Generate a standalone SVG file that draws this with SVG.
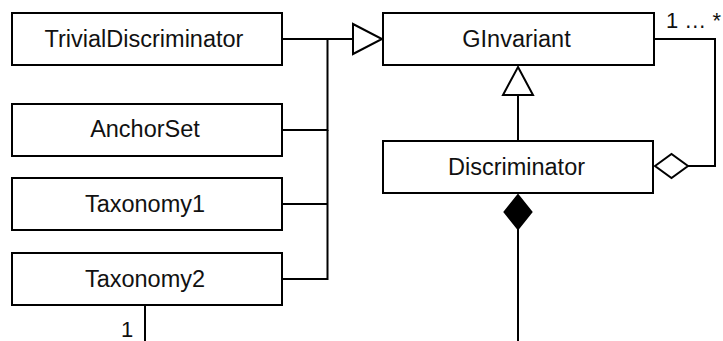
<svg xmlns="http://www.w3.org/2000/svg" width="723" height="341" viewBox="0 0 723 341">
<style>
.box{fill:#fff;stroke:#000;stroke-width:2}
.lbl{font-family:"Liberation Sans",Arial,sans-serif;font-size:23.5px;fill:#111;text-anchor:middle}
.mult{font-family:"Liberation Sans",Arial,sans-serif;font-size:22px;fill:#111}
.ln{fill:none;stroke:#000;stroke-width:2}
.hollow{fill:#fff;stroke:#000;stroke-width:2}
.filled{fill:#000;stroke:#000;stroke-width:2}
</style>
<rect width="723" height="341" fill="#fff"/>
<g id="connectors">
<polyline class="ln" points="282,39 353,39"/>
<polyline class="ln" points="282,130 327.5,130 327.5,39"/>
<polyline class="ln" points="282,204 327.5,204"/>
<polyline class="ln" points="282,279 327.5,279 327.5,130"/>
<polygon class="hollow" points="353,24 382,39 353,54"/>
<line class="ln" x1="518" y1="95" x2="518" y2="141"/>
<polygon class="hollow" points="518,67 533,95 503,95"/>
<polyline class="ln" points="654,39 715,39 715,166 688,166"/>
<polygon class="hollow" points="655,166 671.5,154 688,166 671.5,178"/>
<line class="ln" x1="518" y1="229" x2="518" y2="341"/>
<polygon class="filled" points="518,195 531.5,212 518,229 504.5,212"/>
<line class="ln" x1="145" y1="305" x2="145" y2="341"/>
<text class="mult" x="666" y="28">1 … *</text>
<text class="mult" x="121" y="337">1</text>
</g>
<g id="TrivialDiscriminator">
<rect class="box" x="12" y="13" width="270" height="52"/>
<text class="lbl" x="144" y="47">TrivialDiscriminator</text>
</g>
<g id="AnchorSet">
<rect class="box" x="12" y="104" width="270" height="52"/>
<text class="lbl" x="145" y="137">AnchorSet</text>
</g>
<g id="Taxonomy1">
<rect class="box" x="12" y="178" width="270" height="52"/>
<text class="lbl" x="145" y="212">Taxonomy1</text>
</g>
<g id="Taxonomy2">
<rect class="box" x="12" y="253" width="270" height="52"/>
<text class="lbl" x="145" y="287">Taxonomy2</text>
</g>
<g id="GInvariant">
<rect class="box" x="383" y="13" width="271" height="52"/>
<text class="lbl" x="516.5" y="47">GInvariant</text>
</g>
<g id="Discriminator">
<rect class="box" x="383" y="141" width="270" height="52"/>
<text class="lbl" x="516.5" y="175">Discriminator</text>
</g>
</svg>
